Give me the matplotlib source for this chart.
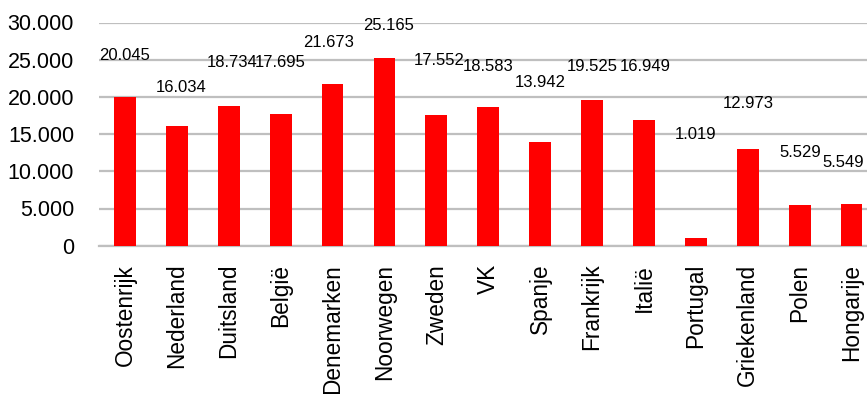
import matplotlib
matplotlib.use("Agg")
import matplotlib.pyplot as plt
from matplotlib.ticker import FuncFormatter

countries = ["Oostenrijk", "Nederland", "Duitsland", "België", "Denemarken",
             "Noorwegen", "Zweden", "VK", "Spanje", "Frankrijk", "Italië",
             "Portugal", "Griekenland", "Polen", "Hongarije"]
values = [20045, 16034, 18734, 17695, 21673, 25165, 17552, 18583,
          13942, 19525, 16949, 1019, 12973, 5529, 5549]

# hand-placed label spots (data units), as in the original
label_y = [25630, 21200, 24560, 24560, 27250, 29660, 24830, 24020,
           21870, 24020, 24020, 14880, 19050, 12590, 11120]
label_dx = [0, 0.08, 0.06, 0, -0.08, 0.08, 0.06, 0,
            0, 0, 0.03, 0, 0, 0.02, -0.17]


def dutch_thousands(v, pos):
    return f"{int(v):,}".replace(",", ".")


plt.rcParams["font.family"] = ["Liberation Sans", "DejaVu Sans"]

fig = plt.figure(figsize=(8.67, 3.94), dpi=100)
ax = fig.add_axes([99 / 867, 1 - 245.7 / 394, 778.5 / 867, 223.2 / 394])

x = range(len(countries))
ax.bar(x, values, width=0.42, color="#FF0000", zorder=3)

for i, v in enumerate(values):
    ax.text(i + label_dx[i], label_y[i], dutch_thousands(v, None),
            ha="center", va="center", fontsize=12, color="#000000")

ax.set_xlim(-0.5, len(countries) - 0.5)
ax.set_ylim(0, 30000)
ax.set_yticks(range(0, 30001, 5000))
ax.yaxis.set_major_formatter(FuncFormatter(dutch_thousands))
ax.set_xticks(list(x))
ax.set_xticklabels(countries, rotation=90, fontsize=16.3)
ax.tick_params(axis="y", labelsize=15.5, length=0, pad=18)
ax.tick_params(axis="x", length=0, pad=13)

ax.yaxis.grid(True, color="#BFBFBF", linewidth=1.6, zorder=0)
ax.set_axisbelow(True)
for side in ["top", "right", "left"]:
    ax.spines[side].set_visible(False)
ax.spines["bottom"].set_color("#BFBFBF")
ax.spines["bottom"].set_linewidth(1.6)

fig.savefig("out.png", dpi=100)
